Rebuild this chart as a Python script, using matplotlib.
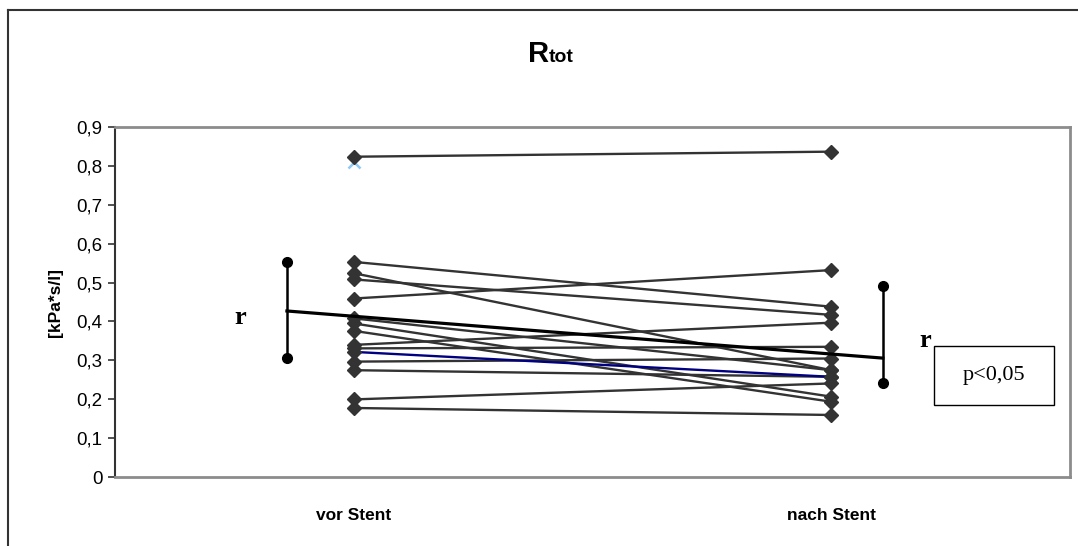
import matplotlib
matplotlib.use('Agg')
import matplotlib.pyplot as plt
from matplotlib.lines import Line2D
from matplotlib.patches import Rectangle

# Daten
categories = ['vor Stent', 'nach Stent']
vor = [0.823, 0.553, 0.524, 0.508, 0.459, 0.408, 0.395, 0.376,
       0.340, 0.331, 0.297, 0.275, 0.200, 0.178]
nach = [0.836, 0.438, 0.275, 0.417, 0.532, 0.275, 0.207, 0.194,
        0.397, 0.335, 0.305, 0.258, 0.241, 0.160]
blue_pair = [0.322, 0.258]
cross_point = 0.81

mean_line = [0.427, 0.306]
bar_left = [0.306, 0.552]
bar_right = [0.242, 0.491]
yticks = [0, 0.1, 0.2, 0.3, 0.4, 0.5, 0.6, 0.7, 0.8, 0.9]

SANS = 'Liberation Sans'
SERIF = 'Liberation Serif'

fig = plt.figure(figsize=(10.78, 5.46), dpi=100)
ax = fig.add_axes([0.1067, 0.1258, 0.8859, 0.6421])

x = [0, 1]
ax.plot([0], [cross_point], marker='x', color='#8fc8f0', ms=9, mew=1.8, ls='none', zorder=2)
for a, b in zip(vor, nach):
    ax.plot(x, [a, b], color='#333333', lw=1.7, marker='D', ms=7.5,
            mfc='#333333', mec='#333333', zorder=3)
ax.plot(x, blue_pair, color='#000080', lw=1.7, marker='D', ms=7.5,
        mfc='#333333', mec='#333333', zorder=3)

# Mittelwertlinie und Streubalken
xl, xr = -0.14, 1.108
ax.plot([xl, xr], mean_line, color='black', lw=2.3, zorder=5, clip_on=False)
ax.plot([xl, xl], bar_left, color='black', lw=1.8, marker='o', ms=7, clip_on=False, zorder=5)
ax.plot([xr, xr], bar_right, color='black', lw=1.8, marker='o', ms=7, clip_on=False, zorder=5)
ax.text(-0.238, 0.409, 'r', family=SERIF, fontweight='bold', fontsize=19,
        ha='center', va='center')
ax.text(1.196, 0.352, 'r', family=SERIF, fontweight='bold', fontsize=19,
        ha='center', va='center')
ax.add_patch(Rectangle((1.215, 0.186), 0.251, 0.151, fc='white', ec='black',
                       lw=1.0, zorder=6, clip_on=False))
ax.text(1.341, 0.261, 'p<0,05', family=SERIF, fontsize=16, ha='center', va='center', zorder=7)

ax.set_xlim(-0.5, 1.5)
ax.set_ylim(0, 0.9)
ax.set_yticks(yticks)
ax.set_yticklabels([f'{v:g}'.replace('.', ',') for v in yticks], family=SANS, fontsize=13.5)
ax.set_xticks(x)
ax.set_xticklabels(categories, family=SANS, fontsize=12.5, fontweight='bold')
ax.tick_params(axis='x', length=0, pad=22)
ax.tick_params(axis='y', direction='out', length=5, width=1.2, color='#333333', pad=4)
for side in ['top', 'right', 'bottom']:
    ax.spines[side].set_color('#8c8c8c')
    ax.spines[side].set_linewidth(2)
ax.spines['left'].set_color('#333333')
ax.spines['left'].set_linewidth(1.5)
ax.set_ylabel('[kPa*s/l]', family=SANS, fontsize=12.5, fontweight='bold', labelpad=10)

# Titel
fig.text(0.509, 0.886, 'R', family=SANS, fontweight='bold', fontsize=21, ha='right', va='baseline')
fig.text(0.509, 0.886, 'tot', family=SANS, fontweight='bold', fontsize=14, ha='left', va='baseline')

# Rahmen des Diagramms
fig.add_artist(Line2D([8 / 1078, 8 / 1078], [0, 1 - 10 / 546], color='#333333', lw=1.5))
fig.add_artist(Line2D([8 / 1078, 1], [1 - 10 / 546, 1 - 10 / 546], color='#333333', lw=1.5))

fig.savefig('out.png', dpi=100)
